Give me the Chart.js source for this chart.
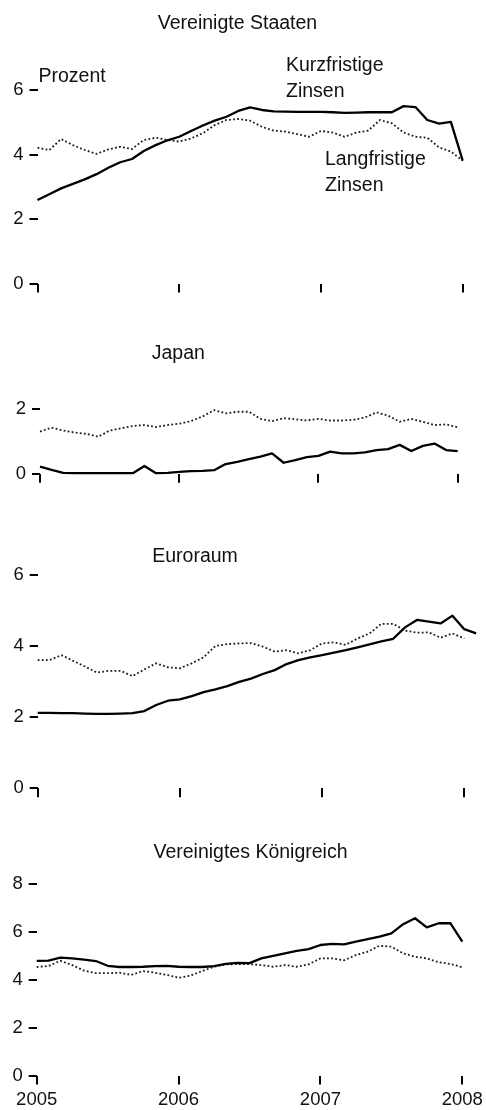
<!DOCTYPE html>
<html><head><meta charset="utf-8">
<script src="https://cdn.jsdelivr.net/npm/chart.js@4.4.1/dist/chart.umd.min.js"></script>
<style>
html,body{margin:0;padding:0;background:#fff;}
body{width:486px;height:1110px;position:relative;overflow:hidden;}
canvas{position:absolute;left:0;}
</style></head><body>
<canvas id="c0" width="486" height="310" style="top:0px"></canvas>
<canvas id="c1" width="486" height="170" style="top:330px"></canvas>
<canvas id="c2" width="486" height="290" style="top:530px"></canvas>
<canvas id="c3" width="486" height="280" style="top:830px"></canvas>
<script>
// ---- data ----
const months = ['2005-01','2005-02','2005-03','2005-04','2005-05','2005-06','2005-07','2005-08','2005-09','2005-10','2005-11','2005-12',
  '2006-01','2006-02','2006-03','2006-04','2006-05','2006-06','2006-07','2006-08','2006-09','2006-10','2006-11','2006-12',
  '2007-01','2007-02','2007-03','2007-04','2007-05','2007-06','2007-07','2007-08','2007-09','2007-10','2007-11','2007-12',
  '2008-01','2008-02'];
const yearLabels = ['2005','2006','2007','2008'];
const yearTickMonths = ['2005-01','2006-01','2007-01','2008-01'];

const usShort = [2.59,2.77,2.95,3.09,3.23,3.39,3.59,3.76,3.86,4.11,4.29,4.44,4.55,4.73,4.90,5.05,5.17,5.35,5.46,5.38,5.34,5.33,5.32,5.32,5.32,5.31,5.29,5.30,5.31,5.31,5.31,5.50,5.47,5.07,4.96,5.01,3.81];
const usLong  = [4.21,4.14,4.48,4.29,4.14,4.02,4.16,4.24,4.17,4.45,4.52,4.45,4.40,4.50,4.66,4.91,5.07,5.10,5.05,4.86,4.74,4.71,4.63,4.55,4.73,4.68,4.55,4.68,4.74,5.07,4.97,4.68,4.55,4.52,4.22,4.09,3.81];
const jpShort = [0.22,0.12,0.03,0.02,0.02,0.02,0.02,0.02,0.02,0.24,0.02,0.03,0.06,0.08,0.09,0.11,0.30,0.37,0.45,0.53,0.63,0.34,0.42,0.51,0.55,0.68,0.63,0.63,0.66,0.73,0.76,0.89,0.70,0.86,0.93,0.73,0.70];
const jpLong  = [1.30,1.42,1.33,1.27,1.23,1.14,1.33,1.40,1.47,1.50,1.44,1.50,1.54,1.62,1.76,1.96,1.86,1.91,1.91,1.69,1.62,1.71,1.68,1.64,1.69,1.64,1.64,1.66,1.73,1.89,1.79,1.60,1.69,1.60,1.50,1.52,1.43];
const euShort = [2.12,2.12,2.11,2.11,2.10,2.09,2.09,2.10,2.11,2.17,2.34,2.46,2.50,2.59,2.70,2.78,2.87,2.99,3.08,3.21,3.32,3.49,3.60,3.68,3.74,3.81,3.88,3.96,4.04,4.13,4.20,4.52,4.73,4.68,4.63,4.85,4.47,4.35];
const euLong  = [3.60,3.60,3.74,3.58,3.42,3.25,3.30,3.30,3.15,3.34,3.51,3.40,3.37,3.51,3.68,4.00,4.05,4.07,4.08,3.98,3.84,3.88,3.79,3.88,4.07,4.10,4.03,4.21,4.35,4.62,4.62,4.43,4.37,4.38,4.23,4.35,4.21];
const ukShort = [4.80,4.81,4.93,4.90,4.85,4.79,4.59,4.54,4.54,4.55,4.58,4.59,4.55,4.54,4.54,4.58,4.67,4.71,4.70,4.90,5.01,5.11,5.21,5.29,5.46,5.51,5.49,5.60,5.71,5.81,5.95,6.33,6.58,6.20,6.37,6.37,5.60];
const ukLong  = [4.54,4.58,4.80,4.62,4.39,4.28,4.28,4.30,4.21,4.37,4.30,4.21,4.09,4.18,4.37,4.55,4.65,4.66,4.66,4.62,4.55,4.62,4.55,4.65,4.90,4.90,4.82,5.04,5.18,5.43,5.39,5.11,4.97,4.90,4.74,4.67,4.53];

const usTicks = [0,2,4,6];
const jpTicks = [0,2];
const euTicks = [0,2,4,6];
const ukTicks = [0,2,4,6,8];

const titles = ['Vereinigte Staaten','Japan','Euroraum','Vereinigtes Königreich'];
const unitLabel = 'Prozent';
const shortLabel = ['Kurzfristige','Zinsen'];
const longLabel = ['Langfristige','Zinsen'];

// ---- fonts ----
function hasNarrow(){
  const c=document.createElement('canvas').getContext('2d');
  c.font='24px "Liberation Sans Narrow", monospace'; const a=c.measureText('Vereinigte Staaten').width;
  c.font='24px "Liberation Sans", monospace'; const b=c.measureText('Vereinigte Staaten').width;
  return a < b*0.9;
}
const NARROW = hasNarrow();
const FAM = NARROW ? '"Liberation Sans Narrow", "Liberation Sans", Arial, sans-serif' : '"Liberation Sans", Arial, sans-serif';
const TITLE_SIZE = NARROW ? 24 : 19.5;
const TICK_SIZE = NARROW ? 22 : 18.5;

// ---- layout (pixel geometry of each panel; right = pixel of 2008-01) ----
const panels = [
  {id:'c0', top:0,   height:310, left:37.5, right:462.7, zero:283.5, unit:32.25, yMax:7.5, ticks:usTicks, s:usShort, l:usLong, xLabels:false,
   texts:[{t:titles[0],x:237.5,y:29.3,a:'center'},{t:unitLabel,x:38.5,y:82.3,a:'left'},
          {t:shortLabel[0],x:286,y:70.7,a:'left'},{t:shortLabel[1],x:286,y:96.7,a:'left'},
          {t:longLabel[0],x:325,y:165,a:'left'},{t:longLabel[1],x:325,y:190.7,a:'left'}]},
  {id:'c1', top:330, height:170, left:40, right:457.7, zero:473.8, unit:32.5, yMax:3, ticks:jpTicks, s:jpShort, l:jpLong, xLabels:false,
   texts:[{t:titles[1],x:178.3,y:359.3,a:'center'}]},
  {id:'c2', top:530, height:290, left:37.7, right:464.3, zero:788.3, unit:35.6, yMax:6.5, ticks:euTicks, s:euShort, l:euLong, xLabels:false,
   texts:[{t:titles[2],x:195,y:562.3,a:'center'}]},
  {id:'c3', top:830, height:280, left:36.7, right:462.3, zero:1075.5, unit:23.9, yMax:8.5, ticks:ukTicks, s:ukShort, l:ukLong, xLabels:true,
   texts:[{t:titles[3],x:250.5,y:858.3,a:'center'}]}
];

const textPlugin = {
  id:'panelTexts',
  afterDraw(chart){
    const p = chart.options.plugins.panelTexts.panel;
    const ctx = chart.ctx;
    ctx.save();
    ctx.fillStyle = '#111';
    ctx.font = TITLE_SIZE + 'px ' + FAM;
    ctx.textBaseline = 'alphabetic';
    p.texts.forEach(o=>{ ctx.textAlign=o.a; ctx.fillText(o.t, o.x, o.y - p.top); });
    ctx.restore();
  }
};

const iStart = months.indexOf('2005-01');
const iTickEnd = months.indexOf('2008-01');
const iEnd = months.indexOf('2008-02');

panels.forEach(p=>{
  const padTop = p.zero - p.yMax*p.unit - p.top;
  const monthPx = (p.right - p.left) / (iTickEnd - iStart);
  const areaRight = p.right + monthPx*(iEnd - iTickEnd);
  const toPts = arr => arr.map((v,i)=>({x:i, y:v}));
  new Chart(document.getElementById(p.id), {
    type:'line',
    data:{ datasets:[
      {label:'kurz', data:toPts(p.s), borderColor:'#000', borderWidth:2.3, pointRadius:0, tension:0, fill:false, clip:false, borderJoinStyle:'round'},
      {label:'lang', data:toPts(p.l), borderColor:'#1a1a1a', borderWidth:1.8, borderDash:[1.8,2.3], pointRadius:0, tension:0, fill:false, clip:false}
    ]},
    options:{
      responsive:false, animation:false, events:[],
      layout:{padding:{left:0, right:486 - areaRight, top:padTop, bottom:0}},
      plugins:{legend:{display:false}, tooltip:{enabled:false}, title:{display:false}, panelTexts:{panel:p}},
      scales:{
        x:{type:'linear', position:'bottom', min:iStart, max:iEnd,
          afterBuildTicks: s=>{ s.ticks = yearTickMonths.map(m=>({value:months.indexOf(m)})); },
          afterFit: s=>{ s.height = p.top + p.height - p.zero; s.paddingLeft=0; s.paddingRight=0; },
          grid:{drawOnChartArea:false, drawTicks:true, tickLength:9, color:'#000', lineWidth:2},
          border:{display:false},
          ticks:{display:p.xLabels, autoSkip:false, maxRotation:0, padding:4, color:'#111',
                 font:{family:FAM, size:TICK_SIZE}, callback:(v,i)=>yearLabels[i]}
        },
        y:{type:'linear', position:'left', min:0, max:p.yMax,
          afterBuildTicks: s=>{ s.ticks = p.ticks.map(v=>({value:v})); },
          afterFit: s=>{ s.width = p.left; s.paddingTop=0; s.paddingBottom=0; },
          grid:{drawOnChartArea:false, drawTicks:true, tickLength:8, color:'#000', lineWidth:2},
          border:{display:false},
          ticks:{autoSkip:false, padding:6, color:'#111', font:{family:FAM, size:TICK_SIZE}}
        }
      }
    },
    plugins:[textPlugin]
  });
});
</script>
</body></html>
